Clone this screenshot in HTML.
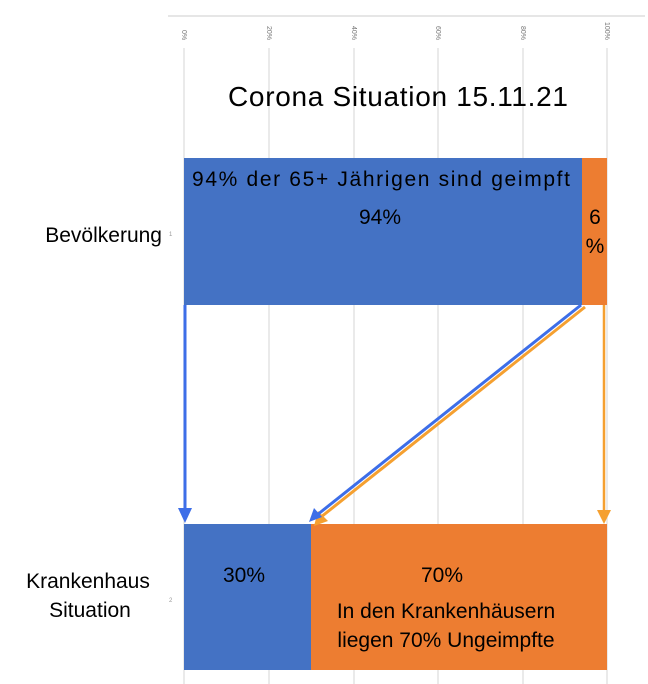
<!DOCTYPE html>
<html><head><style>
body{margin:0;background:#fff;}
svg{display:block;font-family:"Liberation Sans",sans-serif;}
</style></head><body>
<svg width="648" height="684" viewBox="0 0 648 684">
<line x1="168" y1="16" x2="645" y2="16" stroke="#ccc" stroke-width="1"/>
<g stroke="#ddd" stroke-width="1.2">
<line x1="184" y1="48" x2="184" y2="684"/>
<line x1="269" y1="48" x2="269" y2="684"/>
<line x1="354" y1="48" x2="354" y2="684"/>
<line x1="438" y1="48" x2="438" y2="684"/>
<line x1="523" y1="48" x2="523" y2="684"/>
<line x1="607" y1="48" x2="607" y2="684"/>
</g>
<g font-size="7" fill="#777">
<text transform="translate(182,30) rotate(90)">0%</text>
<text transform="translate(267,26) rotate(90)">20%</text>
<text transform="translate(352,26) rotate(90)">40%</text>
<text transform="translate(436,26) rotate(90)">60%</text>
<text transform="translate(521,26) rotate(90)">80%</text>
<text transform="translate(605,22) rotate(90)">100%</text>
</g>
<text x="398" y="106" font-size="28" text-anchor="middle" fill="#000" textLength="340">Corona Situation 15.11.21</text>
<rect x="184" y="158" width="398" height="147" fill="#4472c4"/>
<rect x="582" y="158" width="25" height="147" fill="#ed7d31"/>
<rect x="184" y="524" width="127" height="146" fill="#4472c4"/>
<rect x="311" y="524" width="296" height="146" fill="#ed7d31"/>
<g font-size="21" fill="#000">
<text x="381" y="186" text-anchor="middle" textLength="378">94% der 65+ Jährigen sind geimpft</text>
<text x="380" y="224" text-anchor="middle">94%</text>
<text x="595" y="224" text-anchor="middle">6</text>
<text x="595" y="253" text-anchor="middle">%</text>
<text x="244" y="582" text-anchor="middle">30%</text>
<text x="442" y="582" text-anchor="middle">70%</text>
<text x="446" y="618" text-anchor="middle">In den Krankenhäusern</text>
<text x="446" y="647" text-anchor="middle">liegen 70% Ungeimpfte</text>
<text x="162" y="242" text-anchor="end">Bevölkerung</text>
<text x="88" y="588" text-anchor="middle">Krankenhaus</text>
<text x="90" y="617" text-anchor="middle">Situation</text>
</g>
<g font-size="6" fill="#999"><text x="169" y="236">1</text><text x="169" y="602">2</text></g>
<line x1="185" y1="305" x2="185" y2="510" stroke="#3d6ee8" stroke-width="3"/>
<polygon points="178,508 192,508 185,523" fill="#3d6ee8"/>
<line x1="604" y1="305" x2="604" y2="512" stroke="#f5a030" stroke-width="2.5"/>
<polygon points="597,510 611,510 604,524" fill="#f5a030"/>
<line x1="585" y1="307" x2="321" y2="517" stroke="#f5a030" stroke-width="3"/>
<polygon points="314,526 318,511 328,521" fill="#f5a030"/>
<line x1="581" y1="305" x2="317" y2="515" stroke="#3d6ee8" stroke-width="3"/>
<polygon points="309,522 314,508 322,517" fill="#3d6ee8"/>
</svg>
</body></html>
